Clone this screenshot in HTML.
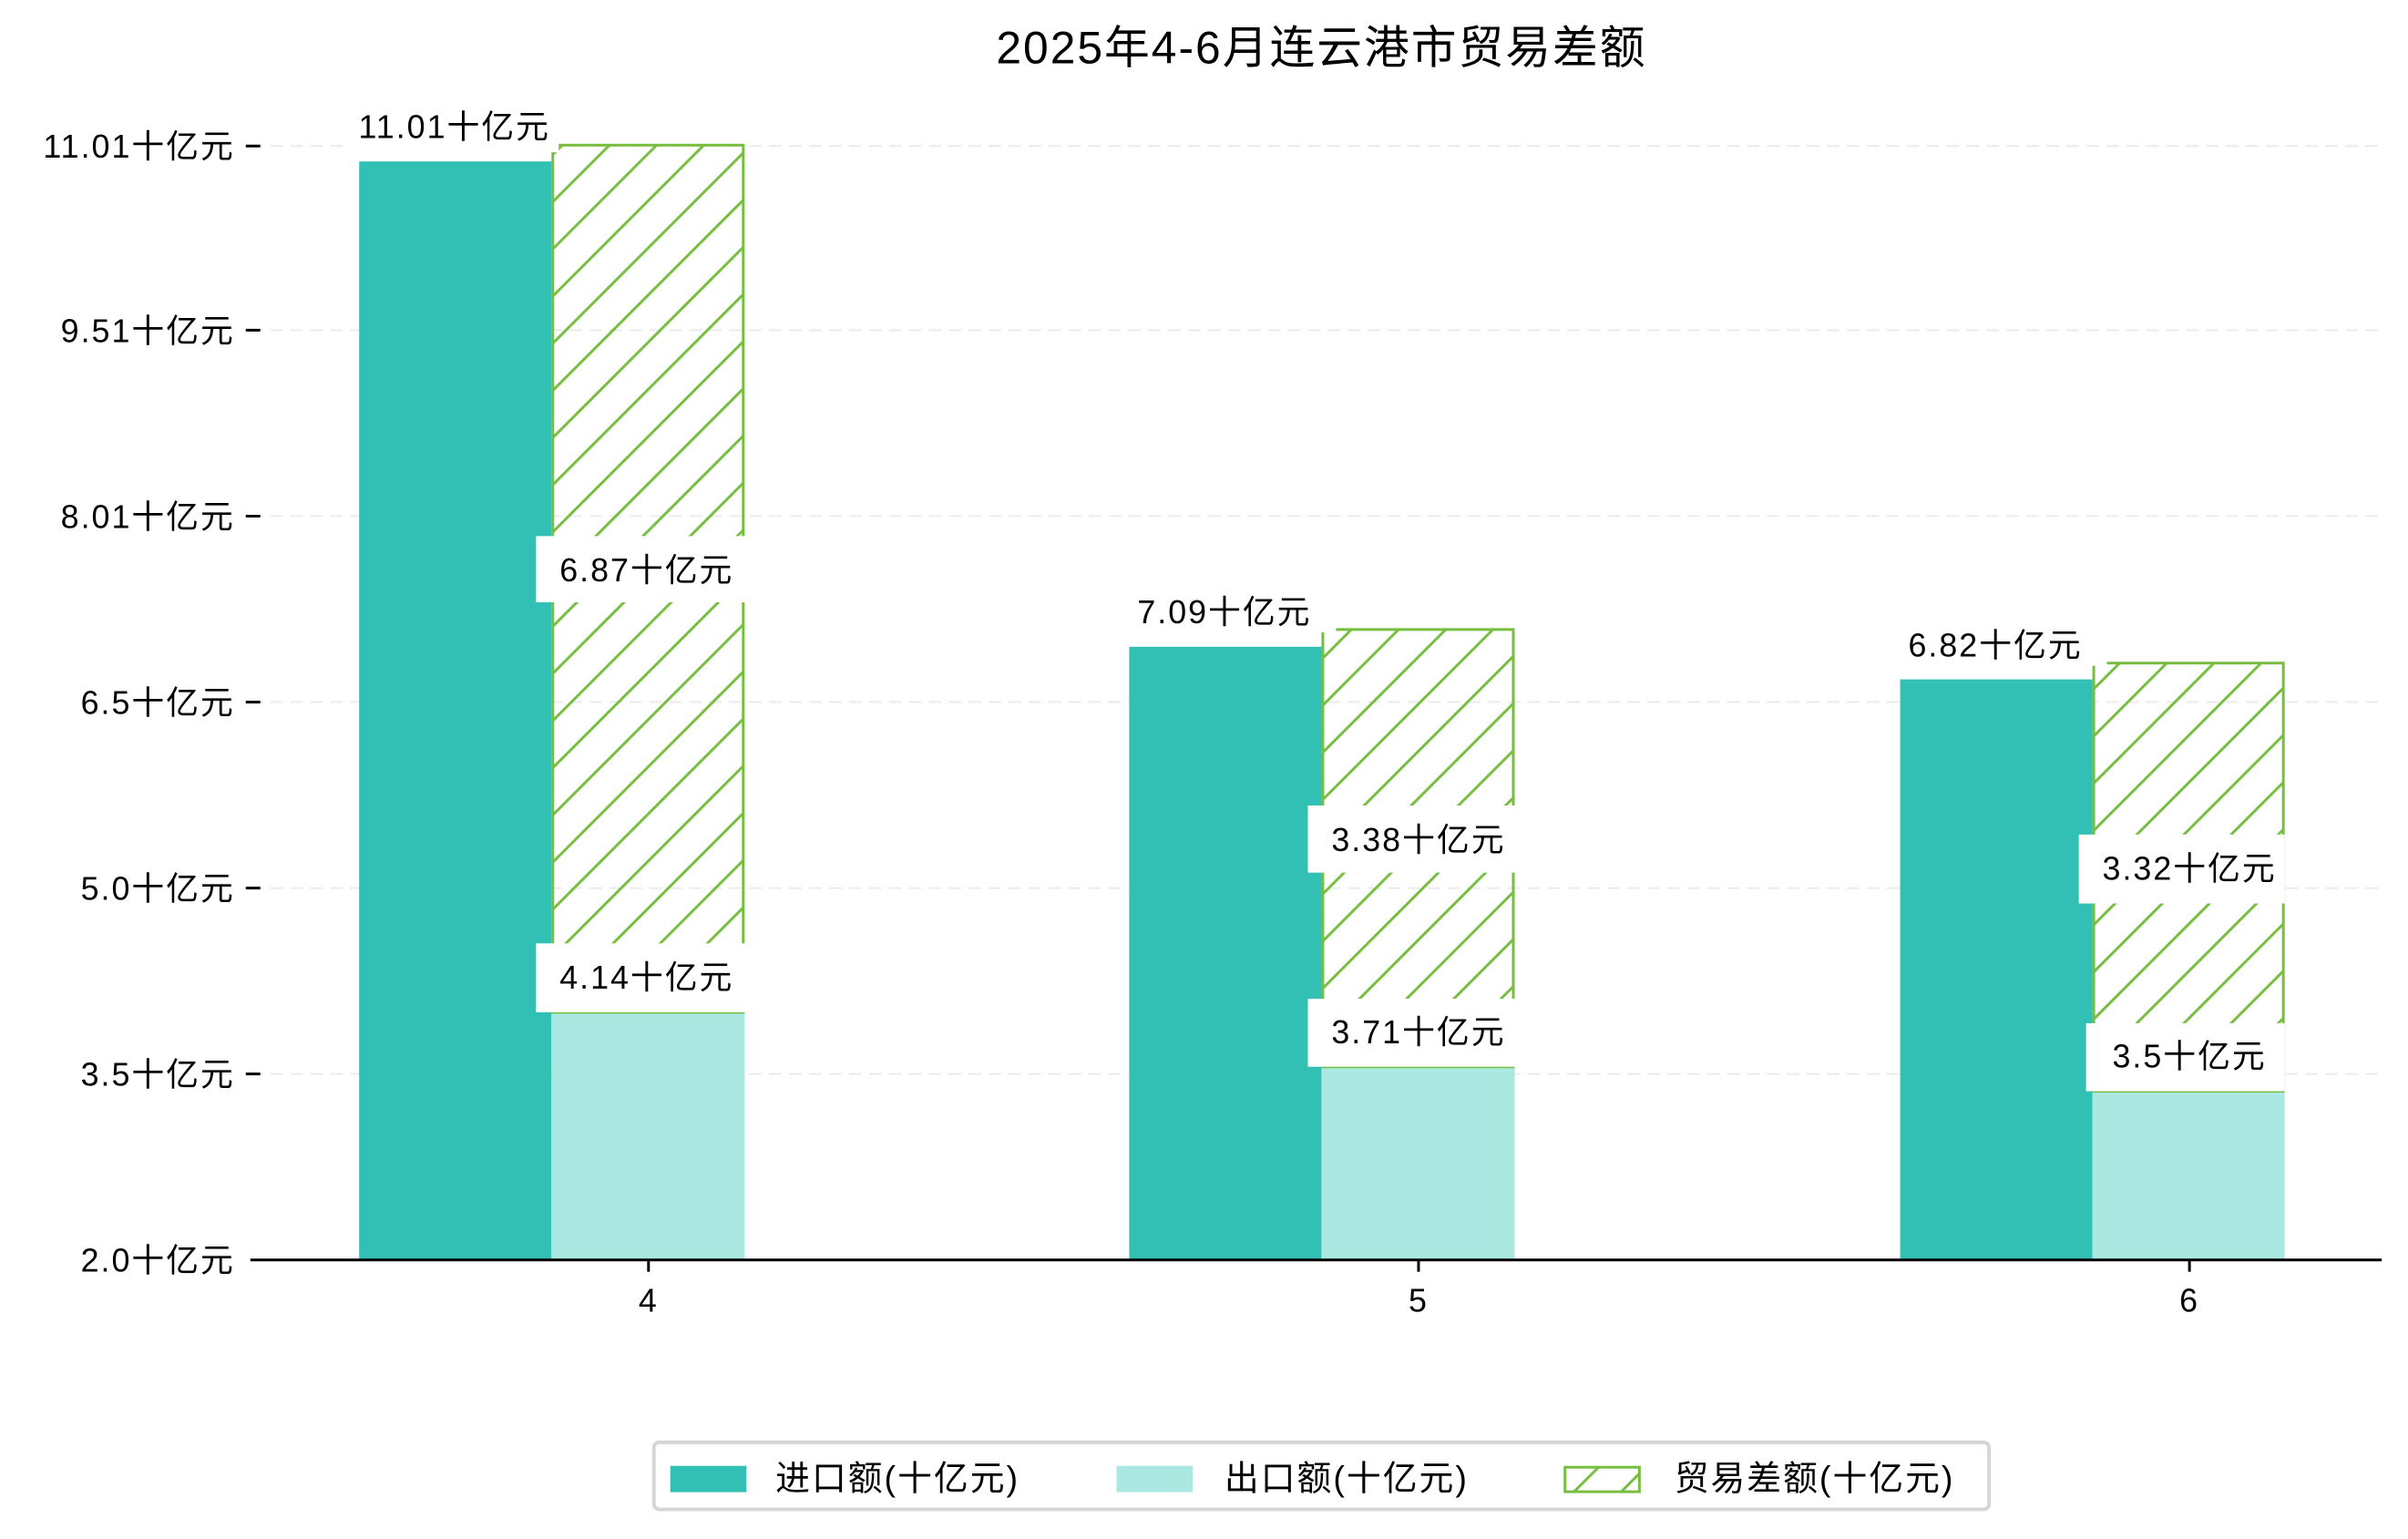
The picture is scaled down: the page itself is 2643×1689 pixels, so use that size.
<!DOCTYPE html>
<html><head><meta charset="utf-8"><style>
html,body{margin:0;padding:0;background:#fff}
svg{display:block}
text{font-family:"Liberation Sans","Noto Sans CJK SC",sans-serif;fill:#000;letter-spacing:2px}
</style></head><body>
<svg width="2643" height="1689" viewBox="0 0 2643 1689" xmlns="http://www.w3.org/2000/svg">
<defs>
<pattern id="h" patternUnits="userSpaceOnUse" width="52" height="52">
<line x1="-4" y1="56" x2="56" y2="-4" stroke="#77bd40" stroke-width="3"/>
<line x1="-30" y1="30" x2="30" y2="-30" stroke="#77bd40" stroke-width="3"/>
<line x1="22" y1="82" x2="82" y2="22" stroke="#77bd40" stroke-width="3"/>
</pattern>
</defs>
<g transform="scale(0.9955)">
<text x="1457" y="70" font-size="50" text-anchor="middle">2025年4-6月连云港市贸易差额</text>
<g stroke="#ebebeb" stroke-width="2" stroke-dasharray="14,8">
<line x1="276" y1="161" x2="2626" y2="161"/><line x1="276" y1="364" x2="2626" y2="364"/>
<line x1="276" y1="569" x2="2626" y2="569"/><line x1="276" y1="774" x2="2626" y2="774"/>
<line x1="276" y1="979" x2="2626" y2="979"/><line x1="276" y1="1184" x2="2626" y2="1184"/>
</g>
<g font-size="36" text-anchor="end">
<text x="259" y="174">11.01十亿元</text><text x="259" y="377">9.51十亿元</text>
<text x="259" y="582">8.01十亿元</text><text x="259" y="787">6.5十亿元</text>
<text x="259" y="992">5.0十亿元</text><text x="259" y="1197">3.5十亿元</text>
<text x="259" y="1402">2.0十亿元</text>
</g>
<g stroke="#000" stroke-width="3">
<line x1="271" y1="161" x2="287" y2="161"/><line x1="271" y1="364" x2="287" y2="364"/>
<line x1="271" y1="569" x2="287" y2="569"/><line x1="271" y1="774" x2="287" y2="774"/>
<line x1="271" y1="979" x2="287" y2="979"/><line x1="271" y1="1184" x2="287" y2="1184"/>
</g>
<rect x="396" y="178" width="212" height="1211" fill="#31c0b3"/>
<rect x="608" y="1116" width="213" height="273" fill="#abe8e2"/>
<rect x="609.5" y="160" width="210" height="956" fill="url(#h)" stroke="#77bd40" stroke-width="3"/>
<rect x="1245" y="713" width="212" height="676" fill="#31c0b3"/>
<rect x="1457" y="1176" width="213" height="213" fill="#abe8e2"/>
<rect x="1458.5" y="694" width="210" height="482" fill="url(#h)" stroke="#77bd40" stroke-width="3"/>
<rect x="2095" y="749" width="212" height="640" fill="#31c0b3"/>
<rect x="2307" y="1203" width="212" height="186" fill="#abe8e2"/>
<rect x="2308.5" y="731" width="209" height="472" fill="url(#h)" stroke="#77bd40" stroke-width="3"/>
<g font-size="36" text-anchor="middle">
<rect x="380" y="112" width="236" height="56" fill="#fff"/><text x="501" y="152">11.01十亿元</text>
<rect x="591" y="591" width="231" height="73" fill="#fff"/><text x="713" y="641">6.87十亿元</text>
<rect x="591" y="1040" width="231" height="76" fill="#fff"/><text x="713" y="1090">4.14十亿元</text>
<rect x="1230" y="647" width="243" height="50" fill="#fff"/><text x="1350" y="687">7.09十亿元</text>
<rect x="1442" y="888" width="228" height="74" fill="#fff"/><text x="1564" y="938">3.38十亿元</text>
<rect x="1442" y="1101" width="228" height="75" fill="#fff"/><text x="1564" y="1150">3.71十亿元</text>
<rect x="2080" y="684" width="243" height="50" fill="#fff"/><text x="2200" y="724">6.82十亿元</text>
<rect x="2292" y="920" width="227" height="76" fill="#fff"/><text x="2414" y="970">3.32十亿元</text>
<rect x="2300" y="1128" width="219" height="75" fill="#fff"/><text x="2414" y="1177">3.5十亿元</text>
</g>
<line x1="276" y1="1389" x2="2626" y2="1389" stroke="#000" stroke-width="3"/>
<g stroke="#000" stroke-width="3">
<line x1="715" y1="1389" x2="715" y2="1402"/><line x1="1564" y1="1389" x2="1564" y2="1402"/><line x1="2414" y1="1389" x2="2414" y2="1402"/>
</g>
<g font-size="36" text-anchor="middle">
<text x="715" y="1446">4</text><text x="1564" y="1446">5</text><text x="2414" y="1446">6</text>
</g>
<rect x="721" y="1590" width="1472" height="74" rx="6" fill="#fff" stroke="#d6d6d6" stroke-width="4"/>
<rect x="739" y="1616" width="84" height="29" fill="#31c0b3"/>
<rect x="1231" y="1616" width="84" height="29" fill="#abe8e2"/>
<rect x="1725.5" y="1617.5" width="82" height="27" fill="url(#h)" stroke="#77bd40" stroke-width="3"/>
<g font-size="38">
<text x="855" y="1643">进口额(十亿元)</text>
<text x="1350" y="1643">出口额(十亿元)</text>
<text x="1846" y="1643">贸易差额(十亿元)</text>
</g>
</g>
</svg>
</body></html>
